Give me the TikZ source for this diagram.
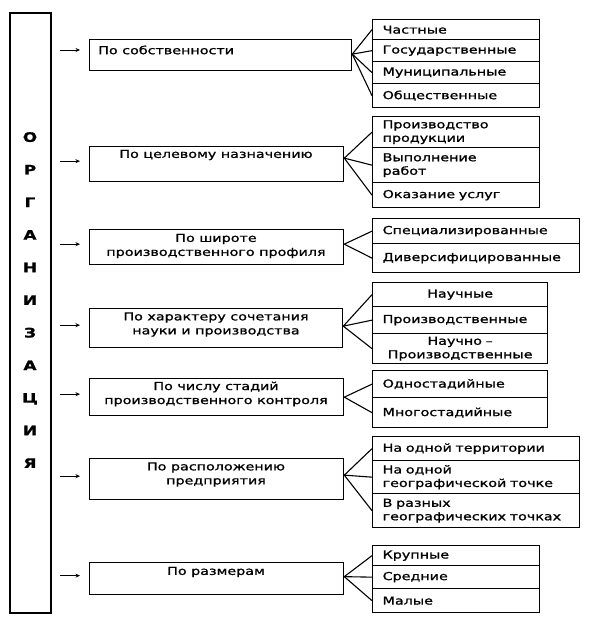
\documentclass[tikz,border=0pt]{standalone}
\usepackage{fontspec}
\setmainfont{DejaVu Sans}[FakeStretch=1.3, FakeBold=1.2]
\usetikzlibrary{arrows.meta}
\begin{document}
\begin{tikzpicture}[x=1pt,y=-1pt,
  box/.style={draw=black, line width=1.3pt, inner sep=0pt, anchor=north west},
  cell/.style={draw=black, line width=1.3pt, anchor=north west, inner xsep=10pt, inner ysep=0pt, align=left, font=\fontsize{11}{13.5}\selectfont},
  ccell/.style={cell, align=center},
  mtext/.style={inner sep=0pt, align=center, font=\fontsize{11}{14}\selectfont},
  fan/.style={draw=black, line width=1.1pt},
  arr/.style={draw=black, line width=0.9pt, -{Stealth[length=4.5pt,width=4pt]}}]
\useasboundingbox (0,0) rectangle (600,624);

% left box
\node[draw=black, line width=1.7pt, minimum width=41pt, minimum height=600pt, inner sep=0pt, anchor=north west] (org) at (9,12) {};
\node[inner sep=0pt, align=center, font=\bfseries\fontsize{13}{32.6}\selectfont] (orgt) at (30,300) {О\\Р\\Г\\А\\Н\\И\\З\\А\\Ц\\И\\Я};

% middle boxes
\node[box, minimum width=262pt, minimum height=31pt] (m1) at (89,39) {};
\node[box, minimum width=254pt, minimum height=35pt] (m2) at (89,146) {};
\node[box, minimum width=254pt, minimum height=35pt] (m3) at (89,229) {};
\node[box, minimum width=253pt, minimum height=39pt] (m4) at (89,308) {};
\node[box, minimum width=254pt, minimum height=37pt] (m5) at (89,378) {};
\node[box, minimum width=254pt, minimum height=41pt] (m6) at (89,458) {};
\node[box, minimum width=254pt, minimum height=32pt] (m7) at (89,562) {};

\node[mtext, anchor=west] (t1) at (98,50) {По собственности};
\node[mtext] (t2) at (216,155) {По целевому назначению};
\node[mtext] (t3) at (216,246) {По широте\\производственного профиля};
\node[mtext] (t4) at (216,324.5) {По характеру сочетания\\науки и производства};
\node[mtext] (t5) at (216,394) {По числу стадий\\производственного контроля};
\node[mtext] (t6) at (216,474.5) {По расположению\\предприятия};
\node[mtext] (t7) at (216,572) {По размерам};

% arrows
\draw[arr] ([xshift=8pt]org.east |- t1.west) -- ([xshift=-9pt]m1.west |- t1.west);
\foreach \m in {m2,m3,m4,m5,m6,m7}
  \draw[arr] ([xshift=8pt,yshift=3pt]org.east |- \m.west) -- ([xshift=-9pt,yshift=3pt]\m.west);

% group 1
\node[cell, text width=147pt, minimum height=20pt] (a1) at (372,19) {Частные};
\node[cell, text width=147pt, minimum height=22pt] (a2) at (372,39) {Государственные};
\node[cell, text width=147pt, minimum height=22pt] (a3) at (372,61) {Муниципальные};
\node[cell, text width=147pt, minimum height=24pt] (a4) at (372,83) {Общественные};
% group 2
\node[cell, text width=147pt, minimum height=31pt] (b1) at (372,116) {Производство\\продукции};
\node[cell, text width=147pt, minimum height=35pt] (b2) at (372,147) {Выполнение\\работ};
\node[cell, text width=147pt, minimum height=25pt] (b3) at (372,182) {Оказание услуг};
% group 3
\node[cell, text width=187pt, minimum height=25pt] (c1) at (372,218) {Специализированные};
\node[cell, text width=187pt, minimum height=29pt] (c2) at (372,243) {Диверсифицированные};
% group 4
\node[ccell, text width=155pt, minimum height=24pt] (d1) at (372,282) {Научные};
\node[cell, text width=155pt, minimum height=27pt] (d2) at (372,306) {Производственные};
\node[ccell, text width=155pt, minimum height=30pt] (d3) at (372,333) {Научно –\\Производственные};
% group 5
\node[cell, text width=155pt, minimum height=27pt] (e1) at (372,370) {Одностадийные};
\node[cell, text width=155pt, minimum height=30pt] (e2) at (372,397) {Многостадийные};
% group 6
\node[cell, text width=187pt, minimum height=24pt] (f1) at (372,436) {На одной территории};
\node[cell, text width=187pt, minimum height=33pt] (f2) at (372,460) {На одной\\географической точке};
\node[cell, text width=187pt, minimum height=34pt] (f3) at (372,493) {В разных\\географических точках};
% group 7
\node[cell, text width=147pt, minimum height=20pt] (g1) at (372,545) {Крупные};
\node[cell, text width=147pt, minimum height=23pt] (g2) at (372,565) {Средние};
\node[cell, text width=147pt, minimum height=24pt] (g3) at (372,588) {Малые};

% fans
\foreach \c in {a1,a2,a3,a4} \draw[fan] ([yshift=1pt]m1.east) -- (\c.west);
\foreach \c in {b1,b2,b3} \draw[fan] ([yshift=6pt]m2.east) -- (\c.west);
\foreach \c in {c1,c2} \draw[fan] ([yshift=3pt]m3.east) -- (\c.west);
\foreach \c in {d1,d2,d3} \draw[fan] ([yshift=2pt]m4.east) -- (\c.west);
\foreach \c in {e1,e2} \draw[fan] (m5.east) -- (\c.west);
\foreach \c in {f1,f2,f3} \draw[fan] ([yshift=4pt]m6.east) -- (\c.west);
\foreach \c in {g1,g2,g3} \draw[fan] ([yshift=2pt]m7.east) -- (\c.west);
\end{tikzpicture}
\end{document}
